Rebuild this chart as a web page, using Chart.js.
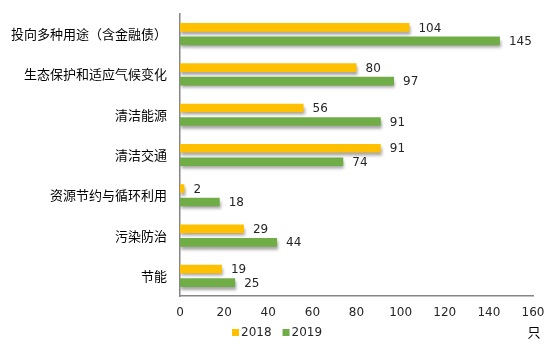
<!DOCTYPE html>
<html>
<head>
<meta charset="utf-8">
<script src="https://cdn.jsdelivr.net/npm/chart.js@4"></script>
<style>
  html, body { margin: 0; padding: 0; background: #fff; }
  #wrap { width: 554px; height: 351px; }
</style>
</head>
<body>
<div id="wrap"><canvas id="bondChart"></canvas></div>
<script>
// categories and values (只)
const categories = ['投向多种用途（含金融债）', '生态保护和适应气候变化', '清洁能源', '清洁交通', '资源节约与循环利用', '污染防治', '节能'];
const values2018 = [104, 80, 56, 91, 2, 29, 19];
const values2019 = [145, 97, 91, 74, 18, 44, 25];
const xTicks = [0, 20, 40, 60, 80, 100, 120, 140, 160];
const seriesNames = ['2018', '2019'];
const seriesColors = ['#FFC000', '#70AD47'];
const unitLabel = '只';

const numFamily = '"DejaVu Sans", Verdana, sans-serif';
const cjkFamily = '"Noto Sans CJK SC", "DejaVu Sans", sans-serif';

// soft drop shadow under the bars
const barShadow = {
    id: 'barShadow',
    beforeDatasetsDraw(chart) {
        const c = chart.ctx;
        c.save();
        c.shadowColor = 'rgba(0,0,0,0.35)';
        c.shadowOffsetX = 1;
        c.shadowOffsetY = 3;
        c.shadowBlur = 3;
    },
    afterDatasetsDraw(chart) {
        chart.ctx.restore();
    }
};

// value labels, legend row and unit
const extras = {
    id: 'extras',
    afterDraw(chart) {
        const c = chart.ctx;
        c.save();
        c.font = '12px ' + numFamily;
        c.fillStyle = '#262626';
        c.textBaseline = 'middle';
        c.textAlign = 'left';
        chart.data.datasets.forEach((ds, i) => {
            chart.getDatasetMeta(i).data.forEach((bar, j) => {
                c.fillText(ds.data[j], bar.x + 9, bar.y + 1);
            });
        });

        // legend
        const ly = 332;
        let lx = 232;
        seriesNames.forEach((name, i) => {
            c.fillStyle = seriesColors[i];
            c.fillRect(lx, ly - 3, 7, 7);
            c.fillStyle = '#262626';
            c.fillText(name, lx + 9, ly + 1);
            lx += 9 + c.measureText(name).width + 11;
        });

        // unit under the end of the x axis
        const xs = chart.scales.x;
        c.font = '13px ' + cjkFamily;
        c.fillStyle = '#000';
        c.textAlign = 'center';
        c.fillText(unitLabel, xs.right + 1, 332);
        c.restore();
    }
};

new Chart(document.getElementById('bondChart'), {
    type: 'bar',
    data: {
        labels: categories,
        datasets: seriesNames.map((name, i) => ({
            label: name,
            data: i === 0 ? values2018 : values2019,
            backgroundColor: seriesColors[i],
            categoryPercentage: 0.67,
            barPercentage: 0.64
        }))
    },
    options: {
        indexAxis: 'y',
        responsive: true,
        maintainAspectRatio: false,
        animation: false,
        layout: { padding: { top: 14, right: 21, bottom: 34, left: 0 } },
        plugins: {
            legend: { display: false },
            tooltip: { enabled: false }
        },
        scales: {
            x: {
                min: 0,
                max: 160,
                afterBuildTicks: axis => { axis.ticks = xTicks.map(v => ({ value: v })); },
                afterFit: scale => {
                    scale.height = 21;
                    scale.paddingRight = 0;
                },
                grid: { display: false, drawTicks: false },
                border: { color: '#868686', width: 1.5 },
                ticks: {
                    padding: 10,
                    color: '#262626',
                    font: { size: 12, family: numFamily }
                }
            },
            y: {
                afterFit: scale => {
                    scale.width = 180;
                    scale.paddingTop = 0;
                    scale.paddingBottom = 0;
                },
                grid: { display: false, drawTicks: false },
                border: { color: '#868686', width: 1.5 },
                ticks: {
                    padding: 13,
                    color: '#000',
                    font: { size: 13, family: cjkFamily }
                }
            }
        }
    },
    plugins: [barShadow, extras]
});
</script>
</body>
</html>
